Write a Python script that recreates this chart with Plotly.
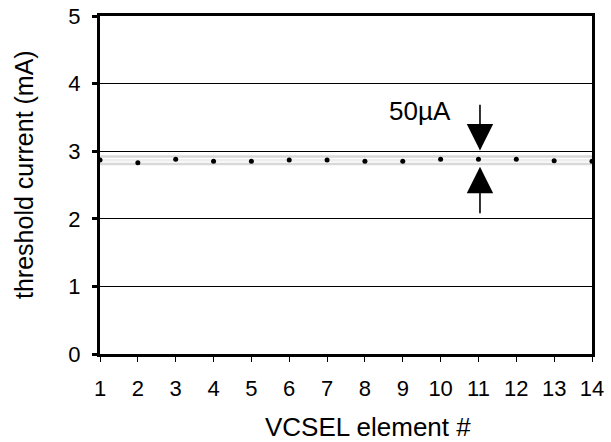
import plotly.graph_objects as go

elements = list(range(1, 15))
threshold_mA = [2.87, 2.83, 2.88, 2.85, 2.85, 2.87, 2.87, 2.85, 2.85, 2.88, 2.88, 2.88, 2.86, 2.85]

band_levels = [2.92, 2.865, 2.81]
band_colors = ["#d9d9d9", "#eeeeee", "#d9d9d9"]

arrow_x = 11.04
arrow_top = [3.71, 3.01]     # tail, tip
arrow_bottom = [2.06, 2.77]  # tail, tip
label_text = "50µA"
label_pos = [9.45, 3.6]

x_title = "VCSEL element #"
y_title = "threshold current (mA)"

fig = go.Figure()

for lvl, col in zip(band_levels, band_colors):
    fig.add_trace(go.Scatter(x=[1, 14], y=[lvl, lvl], mode="lines",
                             line=dict(color=col, width=2.5), hoverinfo="skip",
                             showlegend=False))

fig.add_trace(go.Scatter(x=elements, y=threshold_mA, mode="markers",
                         marker=dict(color="black", size=5), showlegend=False,
                         cliponaxis=False))

for tail, tip in (arrow_top, arrow_bottom):
    fig.add_annotation(x=arrow_x, y=tip, ax=arrow_x, ay=tail, xref="x", yref="y",
                       axref="x", ayref="y", text="", showarrow=True,
                       arrowhead=2, arrowsize=3.3, arrowwidth=1.6, arrowcolor="black")

fig.add_annotation(x=label_pos[0], y=label_pos[1], xref="x", yref="y", text=label_text,
                   showarrow=False, font=dict(size=26, color="black"))

# axis titles (placed as paper annotations to match the original offsets)
fig.add_annotation(x=0.5457, y=-0.216, xref="paper", yref="paper", text=x_title,
                   showarrow=False, xanchor="center", yanchor="middle",
                   font=dict(size=26, color="black"))
fig.add_annotation(x=-0.1545, y=0.5325, xref="paper", yref="paper", text=y_title,
                   showarrow=False, xanchor="center", yanchor="middle", textangle=-90,
                   font=dict(size=25, color="black"))

fig.update_layout(
    width=611, height=442,
    margin=dict(l=100, r=19, t=16, b=88),
    paper_bgcolor="white", plot_bgcolor="white",
    font=dict(family="Liberation Sans, Arial, sans-serif", size=22, color="black"),
    showlegend=False,
)
fig.update_xaxes(range=[1, 14], tickvals=elements, ticks="outside", ticklen=5,
                 tickwidth=1, tickcolor="black", showline=True, linecolor="black",
                 linewidth=3, mirror=True, showgrid=False, zeroline=False,
                 automargin=False,
                 ticklabelstandoff=8, tickfont=dict(size=22))
fig.update_yaxes(range=[0, 5], tickvals=[0, 1, 2, 3, 4, 5], ticks="outside", ticklen=5,
                 tickwidth=3, tickcolor="black", showline=True, linecolor="black",
                 linewidth=3, mirror=True, showgrid=True, gridcolor="black", gridwidth=1,
                 zeroline=False, automargin=False,
                 ticklabelstandoff=7, tickfont=dict(size=22))

fig.write_html("out.html")
